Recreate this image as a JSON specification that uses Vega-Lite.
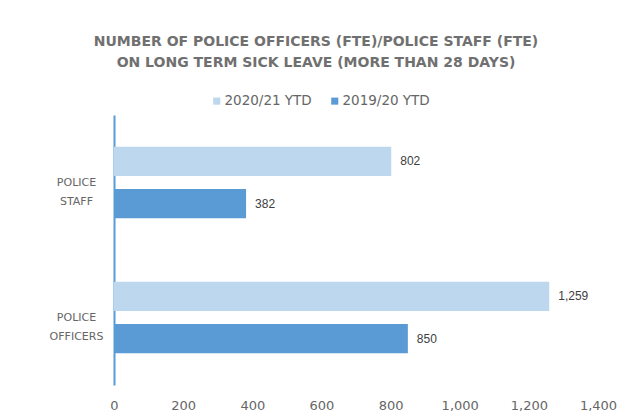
{
  "$schema": "https://vega.github.io/schema/vega-lite/v6.json",
  "width": 484,
  "height": 270,
  "autosize": {"type": "none"},
  "padding": {"left": 114, "top": 115, "right": 26, "bottom": 32},
  "background": "white",
  "config": {"view": {"stroke": null}, "font": "DejaVu Sans"},
  "title": {
    "text": ["NUMBER OF POLICE OFFICERS (FTE)/POLICE STAFF (FTE)", "ON LONG TERM SICK LEAVE (MORE THAN 28 DAYS)"],
    "anchor": "middle",
    "frame": "group",
    "dx": -40,
    "offset": 24,
    "fontSize": 14,
    "fontWeight": "bold",
    "color": "#707070",
    "lineHeight": 21
  },
  "data": {
    "values": [
      {"category": "Police Staff", "period": "2020/21 YTD", "value": 802},
      {"category": "Police Staff", "period": "2019/20 YTD", "value": 382},
      {"category": "Police Officers", "period": "2020/21 YTD", "value": 1259},
      {"category": "Police Officers", "period": "2019/20 YTD", "value": 850}
    ]
  },
  "encoding": {
    "y": {
      "field": "category",
      "type": "nominal",
      "sort": ["Police Staff", "Police Officers"],
      "scale": {"paddingInner": 0.47, "paddingOuter": 0.235},
      "axis": {
        "title": null,
        "ticks": false,
        "domainColor": "#5B9BD5",
        "domainWidth": 2,
        "labelExpr": "split(upper(datum.label), ' ')",
        "labelAlign": "center",
        "labelPadding": 38,
        "labelFontSize": 11,
        "labelLineHeight": 19,
        "labelColor": "#666666"
      }
    },
    "yOffset": {
      "field": "period",
      "type": "nominal",
      "sort": ["2020/21 YTD", "2019/20 YTD"],
      "scale": {"paddingInner": 0.31}
    },
    "x": {
      "field": "value",
      "type": "quantitative",
      "scale": {"domain": [0, 1400]},
      "axis": {
        "title": null,
        "values": [0, 200, 400, 600, 800, 1000, 1200, 1400],
        "grid": false,
        "domain": false,
        "ticks": false,
        "labelPadding": 14,
        "labelFontSize": 13,
        "labelColor": "#666666",
        "format": ",d",
        "labelFlush": false
      }
    }
  },
  "layer": [
    {
      "mark": {"type": "bar"},
      "encoding": {
        "color": {
          "field": "period",
          "type": "nominal",
          "sort": ["2020/21 YTD", "2019/20 YTD"],
          "scale": {"domain": ["2020/21 YTD", "2019/20 YTD"], "range": ["#BDD7EE", "#5B9BD5"]},
          "legend": {
            "title": null,
            "orient": "none",
            "direction": "horizontal",
            "legendX": 96,
            "legendY": -21,
            "symbolType": "square",
            "symbolSize": 50,
            "symbolStrokeWidth": 0,
            "labelFontSize": 13.5,
            "labelColor": "#666666",
            "labelOffset": 1,
            "columnPadding": 16
          }
        }
      }
    },
    {
      "mark": {"type": "text", "align": "left", "dx": 9, "fontSize": 12, "color": "#404040", "font": "Liberation Sans"},
      "encoding": {
        "text": {"field": "value", "type": "quantitative", "format": ",d"}
      }
    }
  ]
}
